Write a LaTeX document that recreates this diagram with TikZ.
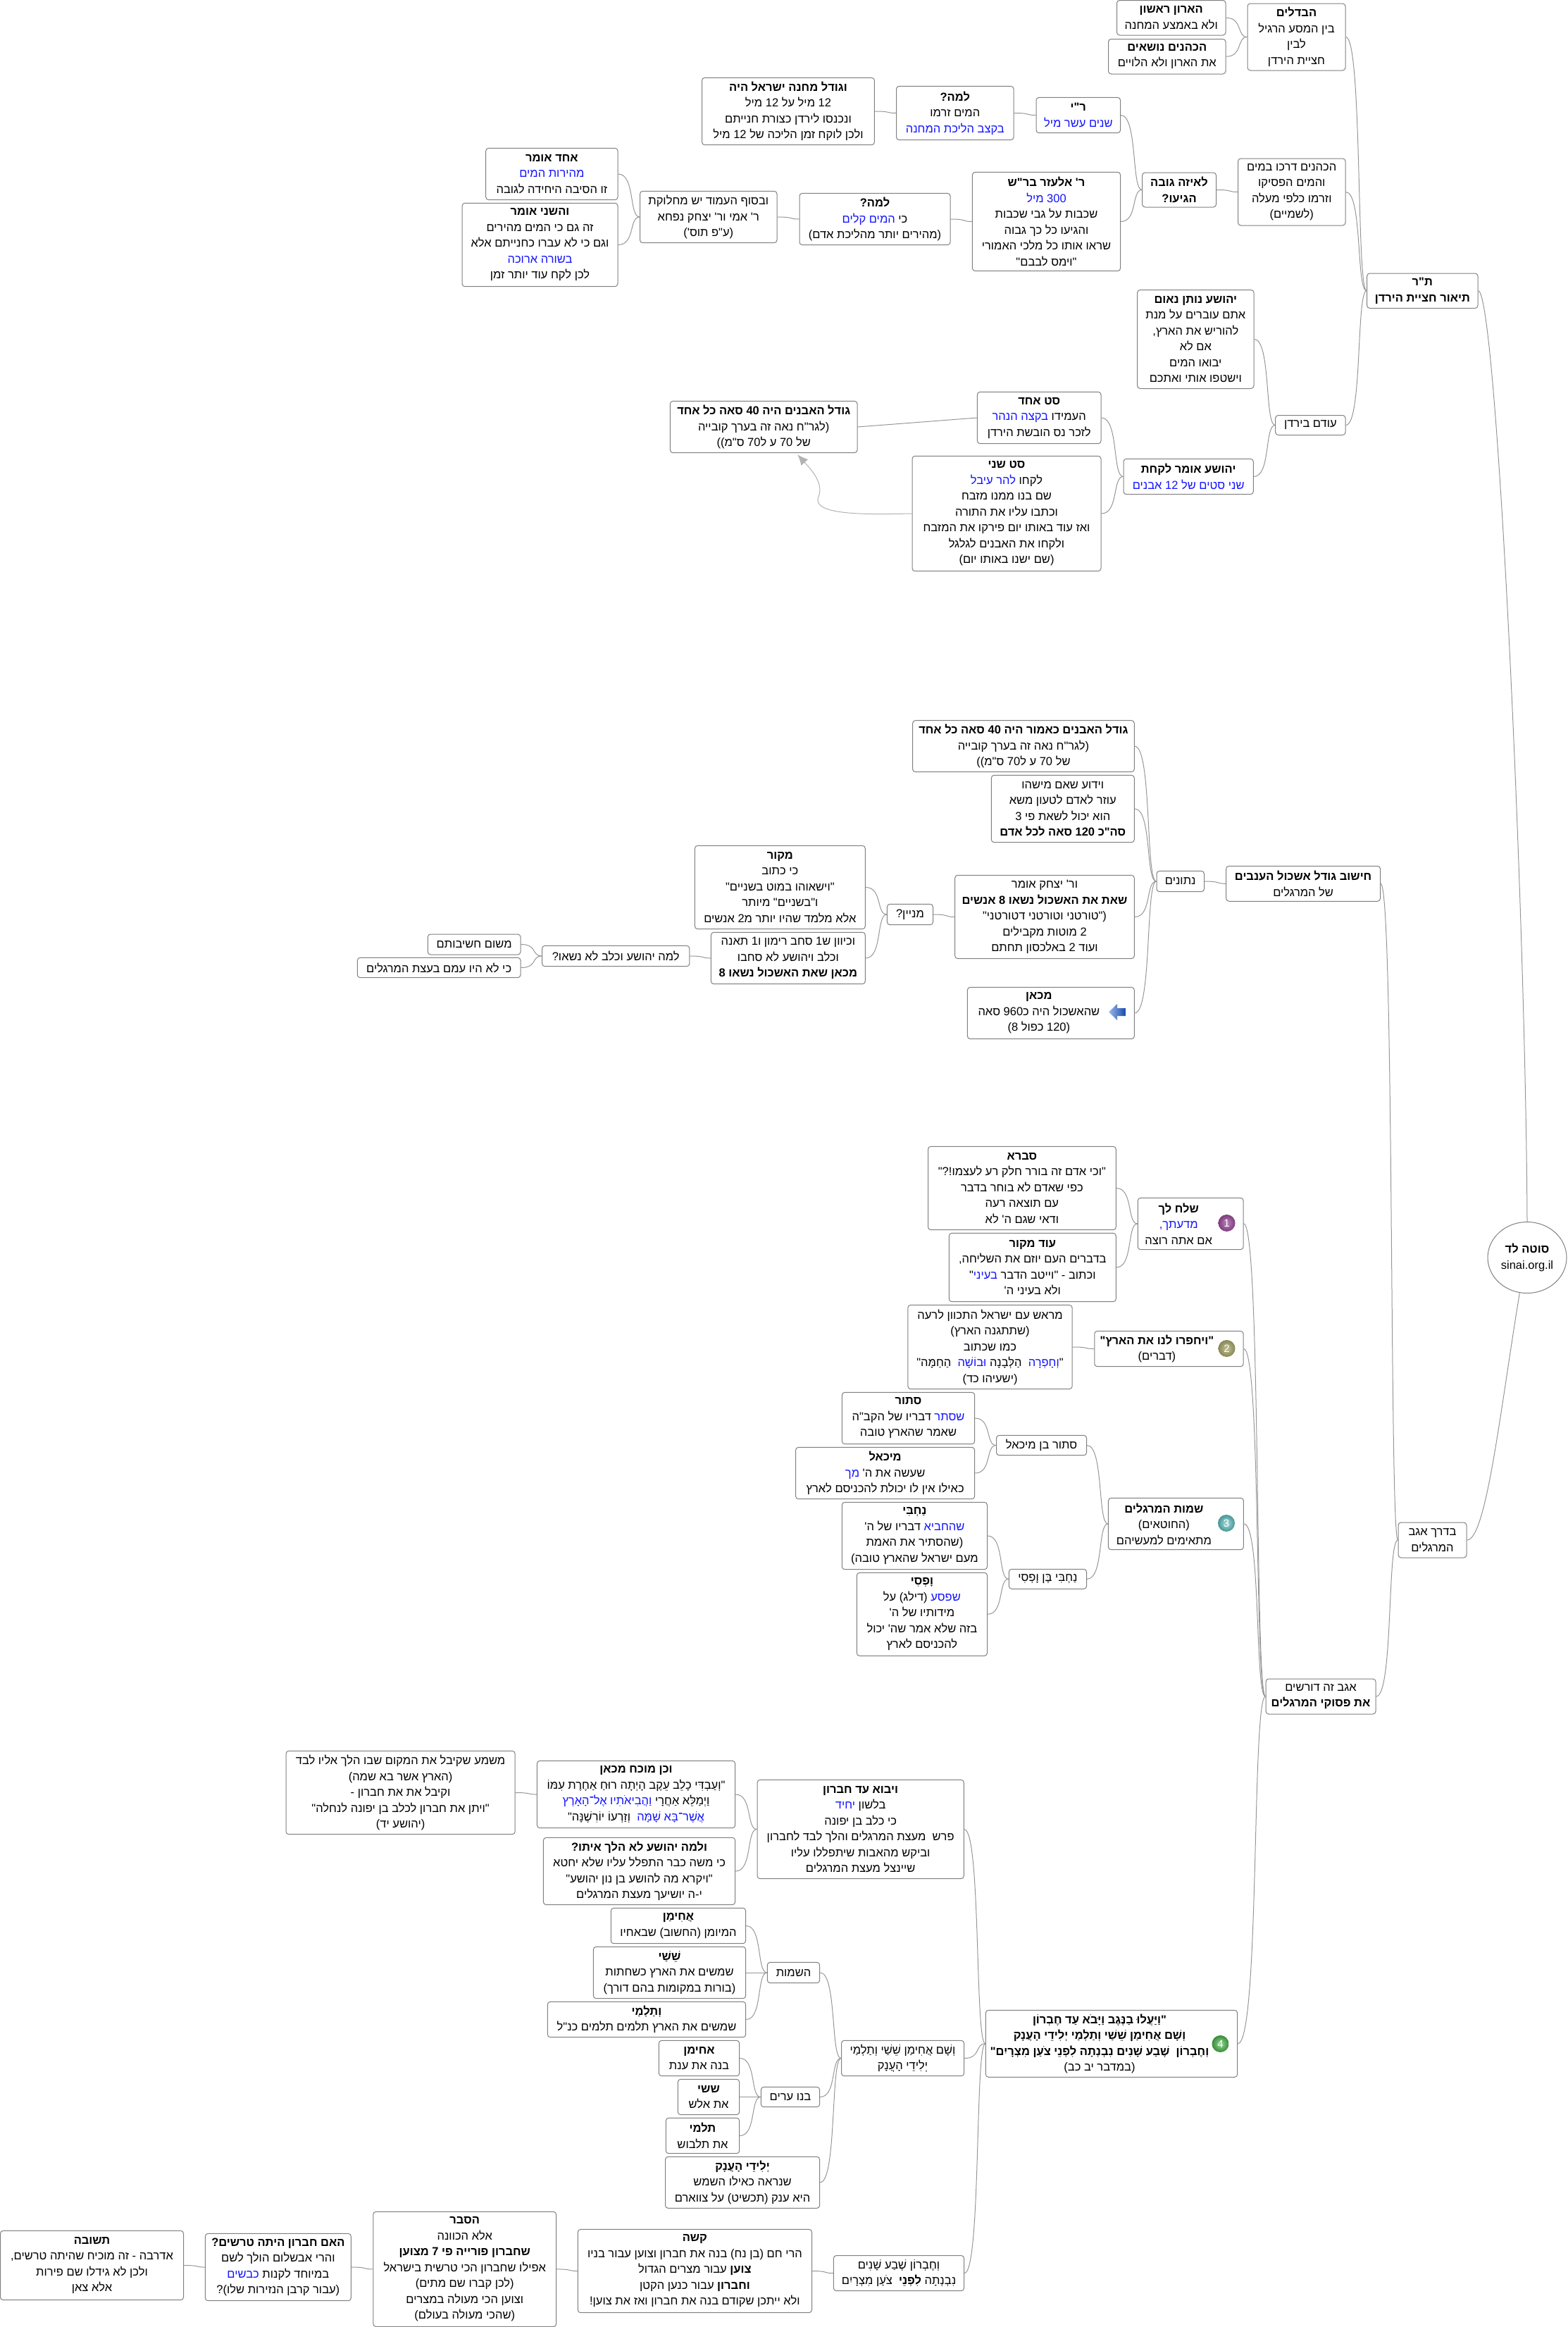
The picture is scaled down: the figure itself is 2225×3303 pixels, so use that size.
\documentclass[tikz,border=0pt]{standalone}
\usepackage{fontspec}
\usetikzlibrary{calc,arrows.meta,shapes.geometric}
\TeXXeTstate=1
\newfontfamily\hf[Script=Hebrew]{Liberation Sans}
\definecolor{hb}{RGB}{20,20,255}
\definecolor{lnc}{RGB}{150,150,150}
\definecolor{bdc}{RGB}{128,128,128}
\newcommand\RR[1]{\beginR #1\endR}
\newcommand\RB[1]{\beginR{\bfseries #1}\endR}
\newcommand\BL[1]{\hbox{\color{hb}\beginR #1\endR}}
\newcommand\PD{\hbox to 34pt{}}
\tikzset{
 box/.style={draw=bdc,line width=1pt,rounded corners=4pt,inner sep=0pt,align=center,fill=white,
   font=\hf\fontsize{16.5}{22.5}\selectfont},
 conn/.style={draw=lnc,line width=1pt},
 xref/.style={draw=black!30,line width=1pt},
 badge/.style={circle,inner sep=0pt,minimum size=24pt,text=white,font=\hf\fontsize{15}{15}\selectfont}
}
\newcommand\nd[6]{\node[box,minimum width={(#4-#2)*1pt},minimum height={(#5-#3)*1pt}] (#1) at ({(#2+#4)/2},{(#3+#5)/2}) {#6};}
\newcommand\cn[2]{\draw[conn] let \p1=(#1.east),\p2=(#2.west),\n1={0.8*(\x2-\x1)},\n2={0.5*(\x2-\x1)} in (\p1) .. controls +(\n1,0) and +(-\n2,0) .. (\p2);}
\begin{document}
\begin{tikzpicture}[x=1pt,y=-1pt]
\useasboundingbox (0,0) rectangle (2225,3303);
% --- nodes
\nd{aron}{1585.5}{0.5}{1740}{50}{\RB{הארון ראשון}\\\RR{ולא באמצע המחנה}}
\nd{kohanim}{1573.5}{55.5}{1740}{105}{\RB{הכהנים נושאים}\\\RR{את הארון ולא הלויים}}
\nd{badim}{1771}{5}{1910}{100}{\RB{הבדלים}\\\RR{בין המסע הרגיל}\\\RR{לבין}\\\RR{חציית הירדן}}
\nd{ri}{1471}{138.3}{1590.6}{188.7}{\RB{ר"י}\\\BL{שנים עשר מיל}}
\nd{drakhu}{1757.5}{225}{1910}{320}{\RR{הכהנים דרכו במים}\\\RR{והמים הפסיקו}\\\RR{וזרמו כלפי מעלה}\\\RR{(לשמיים)}}
\nd{gova}{1621.6}{245}{1726.5}{294}{\RB{לאיזה גובה}\\\RB{הגיעו?}}
\nd{tr}{1940.6}{388}{2098}{437.5}{\RB{ת"ר}\\\RB{תיאור חציית הירדן}}
\nd{neum}{1614.7}{411.5}{1780}{551.5}{\RB{יהושע נותן נאום}\\\RR{אתם עוברים על מנת}\\\RR{להוריש את הארץ,}\\\RR{אם לא}\\\RR{יבואו המים}\\\RR{וישטפו אותי ואתכם}}
\nd{odam}{1810.7}{589.5}{1910}{617.5}{\RR{עודם בירדן}}
\nd{machane}{996.5}{110.3}{1241.4}{205.7}{\RB{וגודל מחנה ישראל היה}\\\RR{12 מיל על 12 מיל}\\\RR{ונכנסו לירדן כצורת חנייתם}\\\RR{ולכן לוקח זמן הליכה של 12 מיל}}
\nd{lama}{1272.6}{122.3}{1439}{198.7}{\RB{למה?}\\\RR{המים זרמו}\\\BL{בקצב הליכת המחנה}}
\nd{echad}{689.7}{210.3}{877}{283.7}{\RB{אחד אומר}\\\BL{מהירות המים}\\\RR{זו הסיבה היחידה לגובה}}
\nd{sheni}{656}{288.3}{877}{406.7}{\RB{והשני אומר}\\\RR{זה גם כי המים מהירים}\\\RR{וגם כי לא עברו כחנייתם אלא}\\\BL{בשורה ארוכה}\\\RR{לכן לקח עוד יותר זמן}}
\nd{basof}{908.5}{271.3}{1103}{344.7}{\RR{ובסוף העמוד יש מחלוקת}\\\RR{ר' אמי ור' יצחק נפחא}\\\RR{(ע"פ תוס')}}
\nd{lamab}{1135}{274.3}{1349}{347.7}{\RB{למה?}\\\BL{המים קלים} \RR{כי}\\\RR{(מהירים יותר מהליכת אדם)}}
\nd{elazar}{1380.4}{244.3}{1590.6}{384.7}{\RB{ר' אלעזר בר"ש}\\\BL{300 מיל}\\\RR{שכבות על גבי שכבות}\\\RR{והגיעו כל כך גבוה}\\\RR{שראו אותו כל מלכי האמורי}\\\RR{"וימס לבבם"}}
\nd{gadol}{951.4}{569.3}{1217}{642.7}{\RB{גודל האבנים היה 40 סאה כל אחד}\\\RR{(לגר"ח נאה זה בערך קובייה}\\\RR{של 70 ע ל70 ס"מ))}}
\nd{seta}{1387.4}{556.3}{1563}{629.7}{\RB{סט אחד}\\\BL{בקצה הנהר} \RR{העמידו}\\\RR{לזכר נס הובשת הירדן}}
\nd{setb}{1295}{647.3}{1563}{810.7}{\RB{סט שני}\\\BL{להר עיבל} \RR{לקחו}\\\RR{שם בנו ממנו מזבח}\\\RR{וכתבו עליו את התורה}\\\RR{ואז עוד באותו יום פירקו את המזבח}\\\RR{ולקחו את האבנים לגלגל}\\\RR{(שם ישנו באותו יום)}}
\nd{likchat}{1595}{651.3}{1779.3}{701.7}{\RB{יהושע אומר לקחת}\\\BL{שני סטים של 12 אבנים}}
% eshkol
\nd{kaamur}{1295.6}{1022.7}{1610.3}{1095.7}{\RB{גודל האבנים כאמור היה 40 סאה כל אחד}\\\RR{(לגר"ח נאה זה בערך קובייה}\\\RR{של 70 ע ל70 ס"מ))}}
\nd{yadua}{1407.3}{1100.3}{1610.3}{1195.7}{\RR{וידוע שאם מישהו}\\\RR{עוזר לאדם לטעון משא}\\\RR{הוא יכול לשאת פי 3}\\\RB{סה"כ 120 סאה לכל אדם}}
\nd{yitzchak}{1355.7}{1242.3}{1610.3}{1360.7}{\RR{ור' יצחק אומר}\\\RB{שאת את האשכול נשאו 8 אנשים}\\\RR{("טורטני וטורטני דטורטני"}\\\RR{2 מוטות מקבילים}\\\RR{ועוד 2 באלכסון תחתם}}
\nd{mikan}{1373.4}{1401.3}{1610.3}{1474.7}{\RB{מכאן}\PD\\\RR{שהאשכול היה כ960 סאה}\PD\\\RR{(120 כפול 8)}\PD}
\nd{netunim}{1642}{1236.3}{1709.5}{1265.7}{\RR{נתונים}}
\nd{chishuv}{1740.7}{1229.3}{1959.5}{1279.3}{\RB{חישוב גודל אשכול הענבים}\\\RR{של המרגלים}}
\nd{minayin}{1259.4}{1283.3}{1324.5}{1312.7}{\RR{מניין?}}
\nd{makor}{986.4}{1200.3}{1228.3}{1318.7}{\RB{מקור}\\\RR{כי כתוב}\\\RR{"וישאוהו במוט בשניים"}\\\RR{ו"בשניים" מיותר}\\\RR{אלא מלמד שהיו יותר מ2 אנשים}}
\nd{keivan}{1009.4}{1323.3}{1228.3}{1396.7}{\RR{וכיוון ש1 סחב רימון ו1 תאנה}\\\RR{וכלב ויהושע לא סחבו}\\\RB{מכאן שאת האשכול נשאו 8}}
\nd{lamayeh}{769.6}{1342.3}{978.8}{1371.7}{\RR{למה יהושע וכלב לא נשאו?}}
\nd{mishum}{607.3}{1326}{739}{1355}{\RR{משום חשיבותם}}
\nd{kilo}{507.3}{1359.3}{739}{1387.7}{\RR{כי לא היו עמם בעצת המרגלים}}
% meraglim
\nd{svara}{1317.5}{1627.3}{1584.3}{1745.7}{\RB{סברא}\\\RR{"וכי אדם זה בורר חלק רע לעצמו!?"}\\\RR{כפי שאדם לא בוחר בדבר}\\\RR{עם תוצאה רעה}\\\RR{ודאי שגם ה' לא}}
\nd{odmakor}{1347.3}{1750.3}{1584.3}{1847.7}{\RB{עוד מקור}\\\RR{בדברים העם יוזם את השליחה,}\\"\BL{בעיני} \RR{וכתוב - "וייטב הדבר}\\\RR{ולא בעיני ה'}}
\nd{shlach}{1615.3}{1700.3}{1765.1}{1773.7}{\RB{שלח לך}\PD\\\BL{מדעתך,}\PD\\\RR{אם אתה רוצה}\PD}
\nd{merosh}{1288.9}{1852.3}{1522.1}{1971.7}{\RR{מראש עם ישראל התכוון לרעה}\\\RR{(שתתגנה הארץ)}\\\RR{כמו שכתוב}\\\RR{הַחַמָּה"}\ \ \BL{וּבוֹשָׁה} \RR{הַלְּבָנָה}\ \ \BL{וְחָפְרָה}"\\\RR{(ישעיהו כד)}}
\nd{yachpru}{1553.8}{1889.3}{1765.1}{1939.7}{\RB{"ויחפרו לנו את הארץ"}\PD\\\RR{(דברים)}\PD}
\nd{stur}{1195.3}{1976.3}{1383.7}{2049.7}{\RB{סתור}\\\RR{דבריו של הקב"ה} \BL{שסתר}\\\RR{שאמר שהארץ טובה}}
\nd{michael}{1129.6}{2054.3}{1383.7}{2127.7}{\RB{מיכאל}\\\BL{מך} \RR{שעשה את ה'}\\\RR{כאילו אין לו יכולת להכניסם לארץ}}
\nd{nachbi}{1195.3}{2132.3}{1401.5}{2227.7}{\RB{נַחְבִּי}\\\RR{דבריו של ה'} \BL{שהחביא}\\\RR{(שהסתיר את האמת}\\\RR{מעם ישראל שהארץ טובה)}}
\nd{vofsi}{1216.3}{2232.3}{1401.5}{2350.3}{\RB{וָפְסִי}\\\RR{(דילג) על} \BL{שפסע}\\\RR{מידותיו של ה'}\\\RR{בזה שלא אמר שה' יכול}\\\RR{להכניסם לארץ}}
\nd{sturben}{1414.5}{2037.3}{1542.6}{2065.7}{\RR{סתור בן מיכאל}}
\nd{nachben}{1432.3}{2227.3}{1542.6}{2255.3}{\RR{נַחְבִּי בֶּן וָפְסִי}}
\nd{shmot}{1573.4}{2126.3}{1765.4}{2199.7}{\RB{שמות המרגלים}\PD\\\RR{(החוטאים)}\PD\\\RR{מתאימים למעשיהם}\PD}
% hevron
\nd{mashma}{406}{2485.3}{731.2}{2603.7}{\RR{משמע שקיבל את המקום שבו הלך אליו לבד}\\\RR{(הארץ אשר בא שמה)}\\\RR{וקיבל את את חברון -}\\\RR{"ויתן את חברון לכלב בן יפונה לנחלה"}\\\RR{(יהושע יד)}}
\nd{mukhach}{762.4}{2499.3}{1043.7}{2594.7}{\RB{וכן מוכח מכאן}\\\RR{"וְעַבְדִּי כָלֵב עֵקֶב הָיְתָה רוּחַ אַחֶרֶת עִמּוֹ}\\\BL{וַהֲבִיאֹתִיו אֶל־הָאָרֶץ} \RR{וַיְמַלֵּא אַחֲרָי}\\\RR{וְזַרְעוֹ יוֹרִשֶׁנָּה"}\ \ \BL{אֲשֶׁר־בָּא שָׁמָּה}}
\nd{velama}{771.4}{2608.3}{1043.7}{2703.7}{\RB{ולמה יהושע לא הלך איתו?}\\\RR{כי משה כבר התפלל עליו שלא יחטא}\\\RR{"ויקרא מה להושע בן נון יהושע"}\\\RR{י-ה יושיעך מעצת המרגלים}}
\nd{vayavo}{1075}{2526.3}{1368.3}{2666.7}{\RB{ויבוא עד חברון}\\\BL{יחיד} \RR{בלשון}\\\RR{כי כלב בן יפונה}\\\RR{פרש\ \ מעצת המרגלים והלך לבד לחברון}\\\RR{וביקש מהאבות שיתפללו עליו}\\\RR{שיינצל מעצת המרגלים}}
\nd{achiman}{867.3}{2708.3}{1058.7}{2758.7}{\RB{אֲחִימַן}\\\RR{המיומן (החשוב) שבאחיו}}
\nd{sheshai}{842.3}{2763.3}{1058.7}{2836.7}{\RB{שֵׁשַׁי}\\\RR{שמשים את הארץ כשחתות}\\\RR{(בורות במקומות בהם דורך)}}
\nd{talmai}{777.3}{2841.3}{1058.7}{2891.7}{\RB{וְתַלְמַי}\\\RR{שמשים את הארץ תלמים תלמים כנ"ל}}
\nd{hashemot}{1089.3}{2785.3}{1163.7}{2814.7}{\RR{השמות}}
\nd{achb}{935.3}{2896.3}{1049.7}{2946.7}{\RB{אחימן}\\\RR{בנה את ענת}}
\nd{shb}{962.3}{2951.3}{1049.7}{3001.7}{\RB{ששי}\\\RR{את אלש}}
\nd{tlb}{945.3}{3006.3}{1049.7}{3056.7}{\RB{תלמי}\\\RR{את תלבוש}}
\nd{banu}{1080.3}{2962.3}{1163.7}{2990.7}{\RR{בנו ערים}}
\nd{yelidei}{944.5}{3061.3}{1163.7}{3134.3}{\RB{יְלִידֵי הָעֲנָק}\\\RR{שנראה כאילו השמש}\\\RR{היא ענק (תכשיט) על צווארם}}
\nd{vesham}{1194.5}{2896.3}{1368.6}{2946.7}{\RR{וְשָׁם אֲחִימַן שֵׁשַׁי וְתַלְמַי}\\\RR{יְלִידֵי הָעֲנָק}}
\nd{vayaalu}{1399.3}{2853.3}{1756.7}{2948.3}{\RB{"וַיַּעֲלוּ בַנֶּגֶב וַיָּבֹא עַד חֶבְרוֹן}\PD\\\RB{וְשָׁם אֲחִימַן שֵׁשַׁי וְתַלְמַי יְלִידֵי הָעֲנָק}\PD\\\RB{וְחֶבְרוֹן\ \ שֶׁבַע שָׁנִים נִבְנְתָה לִפְנֵי צֹעַן מִצְרָיִם"}\PD\\\RR{(במדבר יב כב)}\PD}
\nd{vechevron}{1183.4}{3201.5}{1368.6}{3251.7}{\RR{וְחֶבְרוֹן שֶׁבַע שָׁנִים}\\\RR{נִבְנְתָה {\bfseries לִפְנֵי}\ \ צֹעַן מִצְרָיִם}}
\nd{kashe}{820.3}{3164.3}{1152.5}{3282.7}{\RB{קשה}\\\RR{הרי חם (בן נח) בנה את חברון וצוען עבור בניו}\\\RR{{\bfseries צוען} עבור מצרים הגדול}\\\RR{{\bfseries וחברון} עבור כנען הקטן}\\\RR{ולא ייתכן שקודם בנה את חברון ואז את צוען!}}
\nd{hesber}{529.8}{3139.3}{789.7}{3302.5}{\RB{הסבר}\\\RR{אלא הכוונה}\\\RB{שחברון פורייה פי 7 מצוען}\\\RR{אפילו שחברון הכי טרשית בישראל}\\\RR{(לכן קברו שם מתים)}\\\RR{וצוען הכי מעולה במצרים}\\\RR{(שהכי מעולה בעולם)}}
\nd{haim}{291.3}{3170.3}{498.4}{3265.7}{\RB{האם חברון היתה טרשים?}\\\RR{והרי אבשלום הולך לשם}\\\BL{כבשים} \RR{במיוחד לקנות}\\\RR{(עבור קרבן הנזירות שלו)?}}
\nd{tshuva}{0.5}{3166.3}{260.5}{3264.7}{\RB{תשובה}\\\RR{אדרבה - זה מוכיח שהיתה טרשים,}\\\RR{ולכן לא גידלו שם פירות}\\\RR{אלא צאן}}
% trunk
\nd{agav}{1985}{2161}{2082}{2211}{\RR{בדרך אגב}\\\RR{המרגלים}}
\nd{dorshim}{1797}{2383}{1953}{2433}{\RR{אגב זה דורשים}\\\RB{את פסוקי המרגלים}}
\node[draw=bdc,line width=1pt,ellipse,inner sep=0pt,minimum width=112pt,minimum height=101pt,align=center,font=\hf\fontsize{16.5}{22.5}\selectfont] (root) at (2168,1785) {\RB{סוטה לד}\\sinai.org.il};
% --- badges
\node[badge,inner color={rgb,255:red,190;green,130;blue,190},outer color={rgb,255:red,125;green,60;blue,125}] (bone) at (1741.5,1736) {1};
\node[badge,inner color={rgb,255:red,195;green,195;blue,150},outer color={rgb,255:red,135;green,135;blue,85}] (btwo) at (1741.5,1914) {2};
\node[badge,inner color={rgb,255:red,170;green,220;blue,220},outer color={rgb,255:red,70;green,150;blue,150}] (bthree) at (1741,2162) {3};
\node[badge,inner color={rgb,255:red,150;green,215;blue,150},outer color={rgb,255:red,55;green,140;blue,55}] (bfour) at (1732.5,2901) {4};
\shade[left color={rgb,255:red,150;green,185;blue,235},right color={rgb,255:red,20;green,70;blue,170}]
  (1574,1436.5) -- (1586,1425) -- (1586,1431) -- (1598.7,1431) -- (1598.7,1442) -- (1586,1442) -- (1586,1448) -- cycle;
% --- connectors
\cn{aron}{badim}\cn{kohanim}{badim}
\cn{badim}{tr}\cn{drakhu}{tr}\cn{odam}{tr}
\cn{gova}{drakhu}\cn{ri}{gova}\cn{elazar}{gova}
\cn{lama}{ri}\cn{machane}{lama}
\cn{lamab}{elazar}\cn{basof}{lamab}\cn{echad}{basof}\cn{sheni}{basof}
\cn{neum}{odam}\cn{likchat}{odam}\cn{seta}{likchat}\cn{setb}{likchat}
\draw[conn] (gadol.east) -- (seta.west);
\draw[xref,-{Latex[length=15pt,width=13pt]}] (setb.west) .. controls (1240,730) and (1150,733) .. (1162,705) .. controls (1170,685) and (1150,665) .. ($(gadol.south)+(48,2)$);
\draw[conn] (tr.east) .. controls (2125,413) and (2166,1300) .. (root.north);
\draw[conn] (root.258) .. controls (2130,2000) and (2110,2186) .. (agav.east);
\cn{chishuv}{agav}\cn{dorshim}{agav}
\cn{netunim}{chishuv}
\cn{kaamur}{netunim}\cn{yadua}{netunim}\cn{yitzchak}{netunim}\cn{mikan}{netunim}
\cn{minayin}{yitzchak}\cn{makor}{minayin}\cn{keivan}{minayin}
\cn{lamayeh}{keivan}\cn{mishum}{lamayeh}\cn{kilo}{lamayeh}
\cn{shlach}{dorshim}\cn{yachpru}{dorshim}\cn{shmot}{dorshim}\cn{vayaalu}{dorshim}
\cn{svara}{shlach}\cn{odmakor}{shlach}\cn{merosh}{yachpru}
\cn{sturben}{shmot}\cn{nachben}{shmot}
\cn{stur}{sturben}\cn{michael}{sturben}\cn{nachbi}{nachben}\cn{vofsi}{nachben}
\cn{vayavo}{vayaalu}\cn{vesham}{vayaalu}\cn{vechevron}{vayaalu}
\cn{mukhach}{vayavo}\cn{velama}{vayavo}\cn{mashma}{mukhach}
\cn{hashemot}{vesham}\cn{banu}{vesham}\cn{yelidei}{vesham}
\cn{achiman}{hashemot}\cn{sheshai}{hashemot}\cn{talmai}{hashemot}
\cn{achb}{banu}\cn{shb}{banu}\cn{tlb}{banu}
\cn{kashe}{vechevron}\cn{hesber}{kashe}\cn{haim}{hesber}\cn{tshuva}{haim}
\end{tikzpicture}
\end{document}
